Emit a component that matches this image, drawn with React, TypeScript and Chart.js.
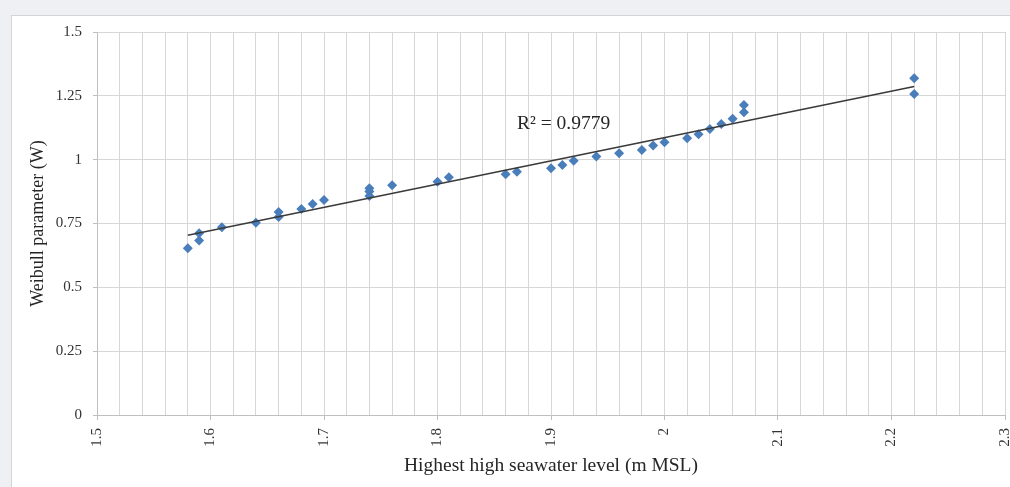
import React, { useEffect, useRef } from "react";
import { Chart, registerables } from "chart.js";

Chart.register(...registerables);

const xValues = [1.58, 1.59, 1.59, 1.61, 1.64, 1.66, 1.66, 1.68, 1.69, 1.70, 1.74, 1.74, 1.74, 1.76, 1.80, 1.81, 1.86, 1.87, 1.90, 1.91, 1.92, 1.94, 1.96, 1.98, 1.99, 2.00, 2.02, 2.03, 2.04, 2.05, 2.06, 2.07, 2.07, 2.22, 2.22];
const yValues = [0.653, 0.683, 0.712, 0.735, 0.753, 0.775, 0.795, 0.807, 0.826, 0.842, 0.858, 0.875, 0.888, 0.900, 0.914, 0.931, 0.943, 0.953, 0.966, 0.979, 0.996, 1.012, 1.025, 1.038, 1.055, 1.068, 1.084, 1.100, 1.120, 1.140, 1.160, 1.186, 1.214, 1.257, 1.319];
const xTitle = "Highest high seawater level (m MSL)";
const yTitle = "Weibull parameter (W)";
const r2Label = "R² = 0.9779";
const xMin = 1.5, xMax = 2.3, xStep = 0.02;
const yMin = 0, yMax = 1.5, yStep = 0.25;

function regression(xs: number[], ys: number[]) {
  const n = xs.length;
  const mx = xs.reduce((a, b) => a + b, 0) / n;
  const my = ys.reduce((a, b) => a + b, 0) / n;
  let sxy = 0, sxx = 0;
  for (let i = 0; i < n; i++) { sxy += (xs[i] - mx) * (ys[i] - my); sxx += (xs[i] - mx) ** 2; }
  const slope = sxy / sxx;
  return { slope, intercept: my - slope * mx };
}

const isMajor = (v: number) => Math.abs(v * 10 - Math.round(v * 10)) < 1e-6;

export default function App() {
  const ref = useRef<HTMLCanvasElement | null>(null);
  useEffect(() => {
    if (!ref.current) return;
    const { slope, intercept } = regression(xValues, yValues);
    const x0 = Math.min(...xValues), x1 = Math.max(...xValues);
    const trend = [{ x: x0, y: slope * x0 + intercept }, { x: x1, y: slope * x1 + intercept }];
    const serif = "'Liberation Serif', 'Times New Roman', serif";
    const labelPlugin = {
      id: "r2label",
      afterDatasetsDraw(chart: any) {
        const { ctx, scales } = chart;
        ctx.save();
        ctx.font = `19.5px ${serif}`;
        ctx.fillStyle = "#262626";
        ctx.textAlign = "left";
        ctx.textBaseline = "middle";
        ctx.fillText(r2Label, scales.x.getPixelForValue(1.87), scales.y.getPixelForValue(1.14));
        ctx.restore();
      },
    };
    const chart = new Chart(ref.current, {
      type: "scatter",
      data: {
        datasets: [
          {
            data: xValues.map((x, i) => ({ x, y: yValues[i] })),
            pointStyle: "rectRot",
            pointRadius: 5,
            pointBackgroundColor: "#4a7ebb",
            pointBorderWidth: 0,
            borderColor: "#4a7ebb",
            order: 2,
          },
          {
            data: trend,
            showLine: true,
            borderColor: "#3a3a3a",
            borderWidth: 1.6,
            pointRadius: 0,
            order: 1,
          },
        ],
      },
      options: {
        animation: false,
        responsive: false,
        layout: { padding: { top: 32, right: 3, left: 0, bottom: 0 } },
        plugins: { legend: { display: false }, tooltip: { enabled: false } },
        scales: {
          x: {
            type: "linear",
            min: xMin,
            max: xMax,
            afterFit: (s: any) => { s.height = 72; s.paddingRight = 0; s.paddingLeft = 0; },
            ticks: {
              stepSize: xStep,
              autoSkip: false,
              maxRotation: 90,
              minRotation: 90,
              padding: 8,
              color: "#333",
              font: { family: serif, size: 15 },
              callback: (v: any) => (isMajor(Number(v)) ? String(Math.round(Number(v) * 10) / 10) : ""),
            },
            grid: {
              color: "#d6d6d6",
              lineWidth: 1,
              tickLength: 5,
              tickColor: (c: any) => (c.tick && isMajor(c.tick.value) ? "#bfbfbf" : "rgba(0,0,0,0)"),
            },
            border: { color: "#bfbfbf" },
            title: { display: true, text: xTitle, color: "#262626", font: { family: serif, size: 19.5 }, padding: { top: 0, bottom: 9 } },
          },
          y: {
            type: "linear",
            min: yMin,
            max: yMax,
            afterFit: (s: any) => { s.width = 97; },
            ticks: {
              stepSize: yStep,
              padding: 11,
              color: "#333",
              font: { family: serif, size: 15 },
              callback: (v: any) => String(Number(v)),
            },
            grid: { color: "#d6d6d6", lineWidth: 1, tickLength: 4, tickColor: "#bfbfbf" },
            border: { color: "#bfbfbf" },
            title: { display: true, text: yTitle, color: "#262626", font: { family: serif, size: 18 }, padding: { top: 27, bottom: 0 } },
          },
        },
      },
      plugins: [labelPlugin],
    });
    return () => chart.destroy();
  }, []);
  return (
    <div style={{ position: "fixed", left: 0, top: 0, width: 1010, height: 487, background: "#eef0f3", overflow: "hidden" }}>
      <div style={{ position: "absolute", left: 11, top: 15, width: 1020, height: 490, background: "#fff", border: "1px solid #d4d4d4" }} />
      <canvas ref={ref} width={1010} height={487} style={{ position: "absolute", left: 0, top: 0, width: 1010, height: 487 }} />
    </div>
  );
}
